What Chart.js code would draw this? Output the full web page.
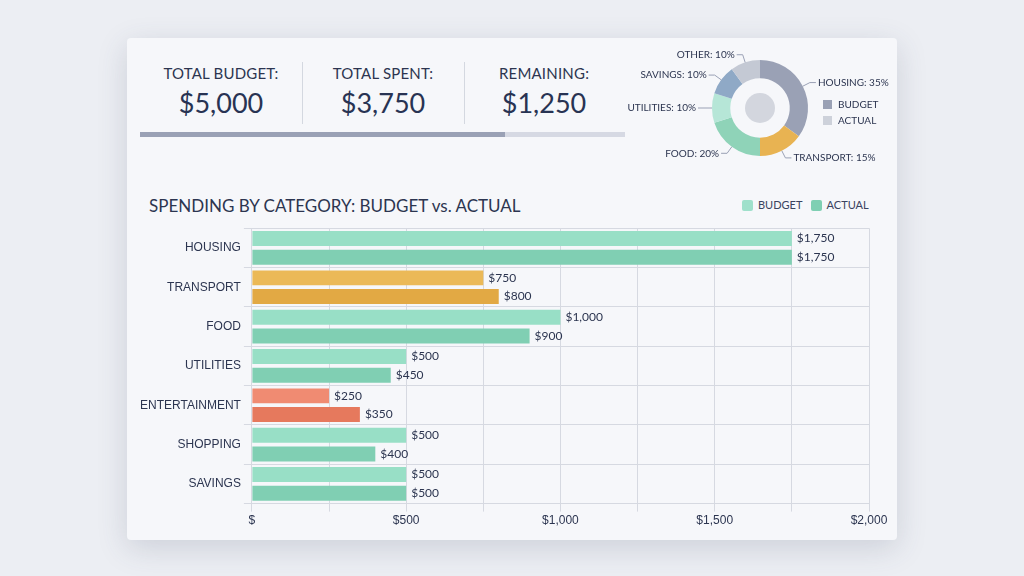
<!DOCTYPE html>
<html><head><meta charset="utf-8">
<script src="https://cdn.jsdelivr.net/npm/chart.js@4"></script>
<style>
body{margin:0;width:1024px;height:576px;background:#eceef3;font-family:Lato,"Open Sans",sans-serif;color:#2c3550;overflow:hidden}
#card{position:absolute;left:127px;top:38px;width:770px;height:502px;background:#f6f7fa;border-radius:4px;box-shadow:0 8px 30px rgba(60,70,100,.18)}
.kpi{position:absolute;top:26px;width:160px;text-align:center}
.kpi .l{font-size:15px;letter-spacing:.2px;color:#2c3550}
.kpi .v{font-size:27px;margin-top:4px;color:#283353}
.sep{position:absolute;top:24px;width:1px;height:62px;background:#d4d8e0}
#prog{position:absolute;left:13px;top:94px;width:485px;height:5px;background:#d6d9e3}
#prog div{width:365px;height:5px;background:#9aa1b5}
#title{position:absolute;left:22px;top:157px;font-size:17px;color:#2c3550}
#leg{position:absolute;left:615px;top:160px;font-size:11px;color:#3a4360}
#leg span{display:inline-block;width:11px;height:11px;vertical-align:-2px;margin:0 5px 0 0;border-radius:2px}
#bars{position:absolute;left:0;top:180px;width:770px;height:312px}
#donut{position:absolute;left:483px;top:8px;width:300px;height:124px}
</style></head><body>
<div id="card">
<div class="kpi" style="left:14px"><div class="l">TOTAL BUDGET:</div><div class="v">$5,000</div></div>
<div class="sep" style="left:175px"></div>
<div class="kpi" style="left:176px"><div class="l">TOTAL SPENT:</div><div class="v">$3,750</div></div>
<div class="sep" style="left:337px"></div>
<div class="kpi" style="left:337px"><div class="l">REMAINING:</div><div class="v">$1,250</div></div>
<div id="prog"><div></div></div>
<div id="title">SPENDING BY CATEGORY: BUDGET vs. ACTUAL</div>
<div id="leg"><span style="background:#9fe0cb"></span>BUDGET &nbsp;&nbsp;<span style="background:#7fcfb3"></span>ACTUAL</div>
<div id="donut"><canvas id="dc"></canvas></div>
<div id="bars"><canvas id="bc"></canvas></div>
</div>
<script>
const categories = ["HOUSING","TRANSPORT","FOOD","UTILITIES","ENTERTAINMENT","SHOPPING","SAVINGS"];
const budget = [1750,750,1000,500,250,500,500];
const actual = [1750,800,900,450,350,400,500];
const xTicks = [0,500,1000,1500,2000];
const shareLabels = ["HOUSING","TRANSPORT","FOOD","UTILITIES","SAVINGS","OTHER"];
const shares = [35,15,20,10,10,10];
const shareColors = ["#9aa1b5","#e8b352","#8fd3b8","#b6e6d7","#8fa9c6","#c4c9d4"];

const bColor = c => c==="TRANSPORT"?"#ebb957":c==="ENTERTAINMENT"?"#f08b72":"#98dfc6";
const aColor = c => c==="TRANSPORT"?"#e2a944":c==="ENTERTAINMENT"?"#e6795d":"#80cfb3";
const money = v => "$"+v.toLocaleString("en-US");

const valueLabels = {
  id:"valueLabels",
  afterDatasetsDraw(chart){
    const ctx = chart.ctx;
    ctx.save();
    ctx.font = "12px Lato, sans-serif";
    ctx.fillStyle = "#2c3550";
    ctx.textBaseline = "middle";
    chart.data.datasets.forEach((ds,i)=>{
      chart.getDatasetMeta(i).data.forEach((bar,j)=>{
        ctx.fillText(money(ds.data[j]), bar.x+5, bar.y);
      });
    });
    ctx.restore();
  }
};

new Chart(document.getElementById("bc"),{
  type:"bar",
  data:{labels:categories,datasets:[
    {label:"BUDGET",data:budget,backgroundColor:categories.map(bColor),barPercentage:0.8,categoryPercentage:0.95},
    {label:"ACTUAL",data:actual,backgroundColor:categories.map(aColor),barPercentage:0.8,categoryPercentage:0.95}
  ]},
  options:{
    indexAxis:"y",responsive:true,maintainAspectRatio:false,animation:false,
    layout:{padding:{left:10,right:28,top:10,bottom:0}},
    plugins:{legend:{display:false},tooltip:{enabled:false}},
    scales:{
      x:{min:0,max:2000,ticks:{stepSize:250,color:"#2c3550",font:{size:12},padding:2,
          callback:v=>xTicks.includes(v)?(v===0?"$":money(v)):""},
        grid:{color:"#d6d9e1"},border:{display:false}},
      y:{ticks:{color:"#2c3550",font:{size:12}},grid:{color:"#d6d9e1",offset:true},border:{display:false}}
    }
  },
  plugins:[valueLabels]
});

const donutLabels = {
  id:"donutLabels",
  afterDatasetsDraw(chart){
    const ctx = chart.ctx, meta = chart.getDatasetMeta(0);
    ctx.save();
    ctx.font = "10px Lato, sans-serif";
    ctx.fillStyle = "#2c3550";
    ctx.strokeStyle = "#9aa1b5";
    ctx.textBaseline = "middle";
    meta.data.forEach((arc,i)=>{
      const a = (arc.startAngle+arc.endAngle)/2;
      const r = arc.outerRadius;
      const x1 = arc.x+Math.cos(a)*r, y1 = arc.y+Math.sin(a)*r;
      const x2 = arc.x+Math.cos(a)*(r+8), y2 = arc.y+Math.sin(a)*(r+8);
      const right = Math.cos(a)>=0;
      const x3 = x2+(right?6:-6);
      ctx.beginPath();ctx.moveTo(x1,y1);ctx.lineTo(x2,y2);ctx.lineTo(x3,y2);ctx.stroke();
      ctx.textAlign = right?"left":"right";
      ctx.fillText(shareLabels[i]+": "+shares[i]+"%", x3+(right?2:-2), y2);
    });
    const c = meta.data[0];
    ctx.fillStyle="#d3d6de";
    ctx.beginPath();ctx.arc(c.x,c.y,15,0,Math.PI*2);ctx.fill();
    ctx.textAlign="left";
    [["BUDGET","#9aa1b5"],["ACTUAL","#cdd1da"]].forEach((l,k)=>{
      ctx.fillStyle=l[1];ctx.fillRect(c.x+63,c.y-8+k*16,9,9);
      ctx.fillStyle="#2c3550";ctx.fillText(l[0],c.x+78,c.y-3.5+k*16);
    });
    ctx.restore();
  }
};

new Chart(document.getElementById("dc"),{
  type:"doughnut",
  data:{labels:shareLabels,datasets:[{data:shares,backgroundColor:shareColors,borderWidth:0}]},
  options:{responsive:true,maintainAspectRatio:false,animation:false,cutout:"62%",
    layout:{padding:{top:14,bottom:14,left:0,right:0}},
    plugins:{legend:{display:false},tooltip:{enabled:false}}},
  plugins:[donutLabels]
});
</script>
</body></html>
